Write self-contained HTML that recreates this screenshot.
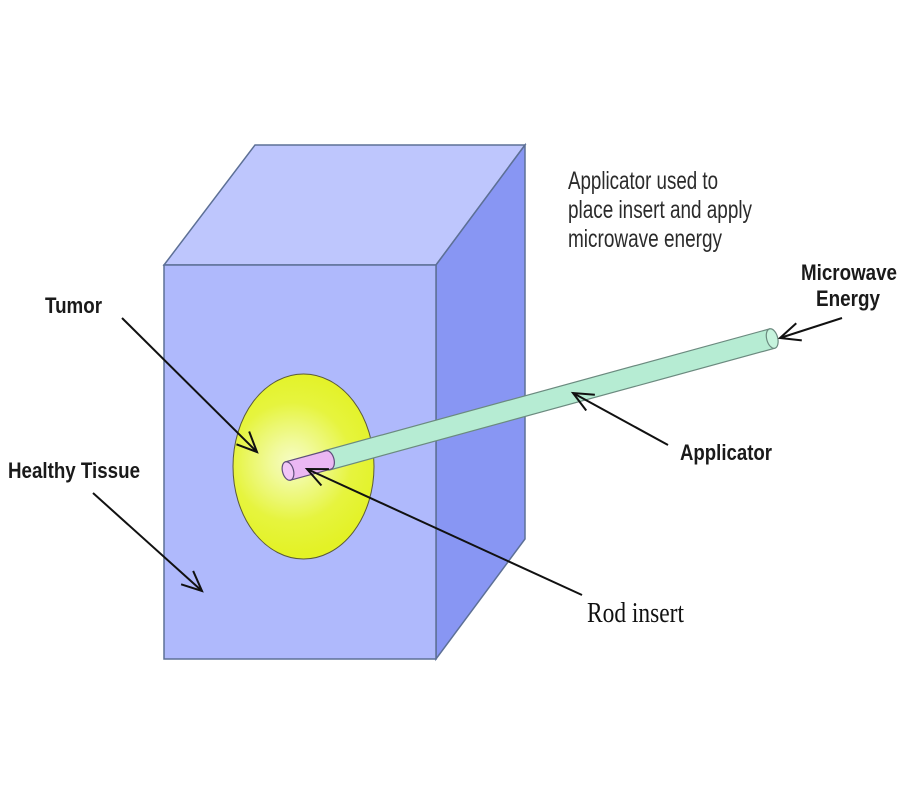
<!DOCTYPE html>
<html>
<head>
<meta charset="utf-8">
<style>
  html, body { margin: 0; padding: 0; background: #ffffff; }
  body { width: 900px; height: 800px; overflow: hidden; }
  svg { display: block; }
</style>
</head>
<body>
<svg width="900" height="800" viewBox="0 0 900 800" xmlns="http://www.w3.org/2000/svg">
  <defs>
    <radialGradient id="tg" gradientUnits="userSpaceOnUse" cx="292" cy="462" r="92">
      <stop offset="0" stop-color="#f6fcc4"/>
      <stop offset="0.22" stop-color="#f1fa9c"/>
      <stop offset="0.45" stop-color="#ebf76c"/>
      <stop offset="0.65" stop-color="#e6f43e"/>
      <stop offset="1" stop-color="#e3f226"/>
    </radialGradient>
    <marker id="ah" markerUnits="userSpaceOnUse" markerWidth="28" markerHeight="24" refX="22" refY="10" orient="auto">
      <path d="M2,1 L22,10 L2,19" fill="none" stroke="#111" stroke-width="2" stroke-linejoin="miter"/>
    </marker>
  </defs>

  <!-- Cube -->
  <polygon points="164,265 255,145 525,145 436,265" fill="#bec6fd" stroke="#5d7096" stroke-width="1.5"/>
  <polygon points="436,265 525,145 525,539 436,659" fill="#8896f3" stroke="#5d7096" stroke-width="1.5"/>
  <rect x="164" y="265" width="272" height="394" fill="#afb9fc" stroke="#5d7096" stroke-width="1.5"/>

  <!-- Tumor -->
  <ellipse cx="303.5" cy="466.5" rx="70.5" ry="92.5" fill="url(#tg)" stroke="#5a5a3a" stroke-width="1"/>

  <!-- Applicator rod and insert -->
  <g transform="translate(288,471) rotate(-15.3)">
    <rect x="40" y="-10" width="462" height="20" fill="#b6ecd3" stroke="#6b8a7f" stroke-width="1.2"/>
    <ellipse cx="502" cy="0" rx="5.5" ry="10" fill="#c6f3dd" stroke="#6b8a7f" stroke-width="1.2"/>
    <path d="M0,-9.5 L42,-9.5 A5.5,9.5 0 0 1 42,9.5 L0,9.5 Z" fill="#ebb7f3" stroke="#5e4f7a" stroke-width="1.2"/>
    <ellipse cx="0" cy="0" rx="5.5" ry="9.5" fill="#f1c6f7" stroke="#5e4f7a" stroke-width="1.2"/>
  </g>

  <!-- Arrows -->
  <g stroke="#111" stroke-width="2" fill="none">
    <line x1="122" y1="318" x2="257" y2="452" marker-end="url(#ah)"/>
    <line x1="93" y1="493" x2="202" y2="591" marker-end="url(#ah)"/>
    <line x1="582" y1="595" x2="307" y2="469" marker-end="url(#ah)"/>
    <line x1="668" y1="445" x2="573" y2="393" marker-end="url(#ah)"/>
    <line x1="842" y1="318" x2="780" y2="338" marker-end="url(#ah)"/>
  </g>

  <!-- Labels -->
  <g font-family="'Liberation Sans', Arial, sans-serif" fill="#2b2b2b" font-size="25">
    <text x="568" y="189" textLength="150" lengthAdjust="spacingAndGlyphs">Applicator used to</text>
    <text x="568" y="218" textLength="184" lengthAdjust="spacingAndGlyphs">place insert and apply</text>
    <text x="568" y="247" textLength="154" lengthAdjust="spacingAndGlyphs">microwave energy</text>
  </g>
  <g font-family="'Liberation Sans', Arial, sans-serif" font-weight="bold" fill="#1a1a1a" font-size="22">
    <text x="45" y="313" textLength="57" lengthAdjust="spacingAndGlyphs">Tumor</text>
    <text x="8" y="478" textLength="132" lengthAdjust="spacingAndGlyphs">Healthy Tissue</text>
    <text x="801" y="280" textLength="96" lengthAdjust="spacingAndGlyphs">Microwave</text>
    <text x="816" y="306" textLength="64" lengthAdjust="spacingAndGlyphs">Energy</text>
    <text x="680" y="460" textLength="92" lengthAdjust="spacingAndGlyphs">Applicator</text>
  </g>
  <text x="587" y="622" font-family="'Liberation Serif', 'Times New Roman', serif" font-size="29" fill="#111" textLength="97" lengthAdjust="spacingAndGlyphs">Rod insert</text>
</svg>
</body>
</html>
